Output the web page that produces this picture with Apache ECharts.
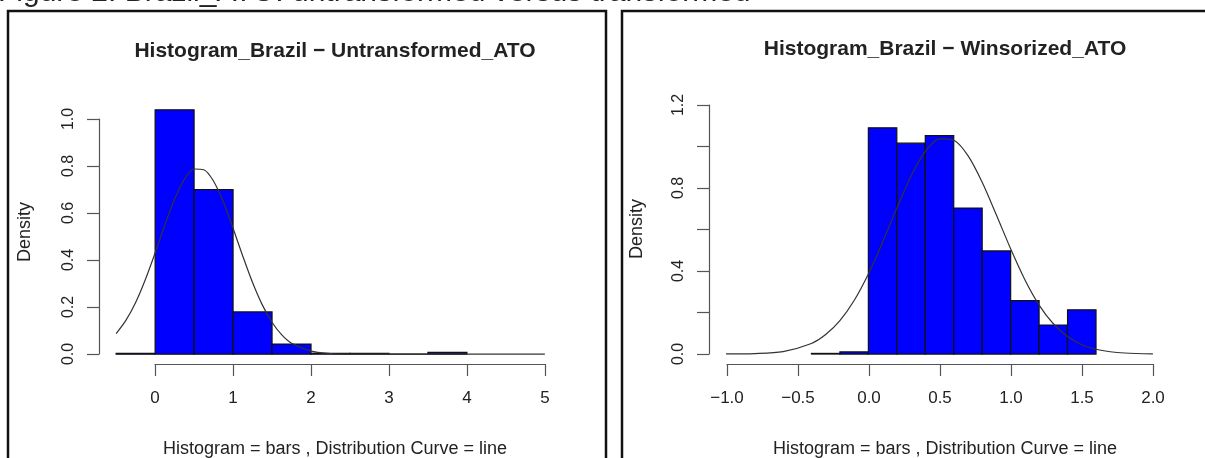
<!DOCTYPE html>
<html>
<head>
<meta charset="utf-8">
<title>Histogram_Brazil ATO</title>
<script src="https://cdn.jsdelivr.net/npm/echarts@6/dist/echarts.min.js"></script>
<style>
html, body { margin: 0; padding: 0; background: #ffffff; }
#chart { width: 1205px; height: 458px; }
</style>
</head>
<body>
<div id="chart"></div>
<script>
// left panel: untransformed ATO
var leftBreaks = [-0.5, 0, 0.5, 1, 1.5, 2, 2.5, 3, 3.5, 4];
var leftDensity = [0.004, 1.04, 0.70, 0.18, 0.043, 0.004, 0.004, 0, 0.008];
var leftCurveX = [-0.5, -0.375, -0.25, -0.125, 0, 0.125, 0.25, 0.375, 0.5, 0.625, 0.75, 0.875, 1, 1.125, 1.25, 1.375, 1.5, 1.625, 1.75, 2, 2.25, 2.5, 3, 4, 5];
var leftCurveY = [0.088, 0.144, 0.220, 0.318, 0.431, 0.550, 0.660, 0.744, 0.788, 0.785, 0.736, 0.648, 0.536, 0.417, 0.305, 0.210, 0.136, 0.082, 0.047, 0.013, 0.003, 0.0004, 0, 0, 0];
var leftXTicks = [0, 1, 2, 3, 4, 5];
var leftXLabels = ["0", "1", "2", "3", "4", "5"];
var leftYTicks = [0, 0.2, 0.4, 0.6, 0.8, 1.0];
var leftYLabels = ["0.0", "0.2", "0.4", "0.6", "0.8", "1.0"];

// right panel: winsorized ATO
var rightBreaks = [-0.4, -0.2, 0, 0.2, 0.4, 0.6, 0.8, 1.0, 1.2, 1.4, 1.6];
var rightDensity = [0.003, 0.01, 1.09, 1.016, 1.052, 0.703, 0.497, 0.257, 0.14, 0.213];
var rightCurveX = [-1, -0.8, -0.6, -0.4, -0.3, -0.2, -0.1, 0, 0.1, 0.2, 0.3, 0.4, 0.5, 0.6, 0.7, 0.8, 0.9, 1, 1.1, 1.2, 1.3, 1.4, 1.5, 1.6, 1.7, 1.8, 2];
var rightCurveY = [0.0003, 0.0023, 0.012, 0.051, 0.094, 0.161, 0.258, 0.386, 0.539, 0.703, 0.857, 0.976, 1.037, 1.030, 0.956, 0.828, 0.670, 0.507, 0.358, 0.236, 0.146, 0.084, 0.045, 0.023, 0.011, 0.005, 0.0007];
var rightXTicks = [-1, -0.5, 0, 0.5, 1, 1.5, 2];
var rightXLabels = ["\u22121.0", "\u22120.5", "0.0", "0.5", "1.0", "1.5", "2.0"];
var rightYTicks = [0, 0.4, 0.8, 1.2];
var rightYLabels = ["0.0", "0.4", "0.8", "1.2"];

var titles = ["Histogram_Brazil \u2212 Untransformed_ATO", "Histogram_Brazil \u2212 Winsorized_ATO"];
var subTitle = "Histogram = bars , Distribution Curve = line";
var caption = "Figure 2. Brazil_ATO: untransformed versus transformed";

var FONT = "Liberation Sans";
var AXIS_COLOR = "#555";
var TEXT_COLOR = "#222";

function pairs(xs, ys) {
  var out = [];
  for (var i = 0; i < xs.length; i++) out.push([xs[i], ys[i]]);
  return out;
}

function bins(breaks, dens) {
  var out = [];
  for (var i = 0; i < dens.length; i++) out.push([breaks[i], breaks[i + 1], dens[i]]);
  return out;
}

function labelFor(ticks, labels) {
  return function (v) {
    for (var i = 0; i < ticks.length; i++) {
      if (Math.abs(ticks[i] - v) < 1e-6) return labels[i];
    }
    return "";
  };
}

// 直方图的矩形
function renderBar(params, api) {
  var p0 = api.coord([api.value(0), api.value(2)]);
  var p1 = api.coord([api.value(1), 0]);
  return {
    type: "rect",
    shape: { x: p0[0], y: p0[1], width: p1[0] - p0[0], height: p1[1] - p0[1] },
    style: { fill: "#0000ff", stroke: "#111", lineWidth: 1.2 }
  };
}

function hiddenAxis(grid, min, max) {
  return { type: "value", gridIndex: grid, min: min, max: max, show: false };
}

function shownX(grid, min, max, interval, ticks, labels) {
  return {
    type: "value", gridIndex: grid, min: min, max: max, interval: interval,
    position: "bottom", offset: 10,
    axisLine: { show: true, onZero: false, lineStyle: { color: AXIS_COLOR, width: 1.2 } },
    axisTick: { show: true, length: 12, lineStyle: { color: AXIS_COLOR, width: 1.2 } },
    axisLabel: { margin: 26, fontSize: 17, color: TEXT_COLOR, fontFamily: FONT, formatter: labelFor(ticks, labels) },
    splitLine: { show: false }
  };
}

function shownY(grid, min, max, interval, offset, ticks, labels) {
  return {
    type: "value", gridIndex: grid, min: min, max: max, interval: interval,
    position: "left", offset: offset,
    axisLine: { show: true, onZero: false, lineStyle: { color: AXIS_COLOR, width: 1.2 } },
    axisTick: { show: true, length: 12, lineStyle: { color: AXIS_COLOR, width: 1.2 } },
    axisLabel: { rotate: 90, margin: 22, fontSize: 16, color: TEXT_COLOR, fontFamily: FONT, formatter: labelFor(ticks, labels) },
    splitLine: { show: false }
  };
}

var myChart = echarts.init(document.getElementById("chart"));
var chartOptions = {
  backgroundColor: "#ffffff",
  animation: false,
  title: [
    { text: titles[0], left: 330, top: 36, textAlign: "center",
      textStyle: { fontSize: 21, fontWeight: "bold", color: TEXT_COLOR, fontFamily: FONT } },
    { text: titles[1], left: 940, top: 34, textAlign: "center",
      textStyle: { fontSize: 21, fontWeight: "bold", color: TEXT_COLOR, fontFamily: FONT } },
    { text: subTitle, left: 330, top: 435, textAlign: "center",
      textStyle: { fontSize: 18, fontWeight: "normal", color: TEXT_COLOR, fontFamily: FONT } },
    { text: subTitle, left: 940, top: 435, textAlign: "center",
      textStyle: { fontSize: 18, fontWeight: "normal", color: TEXT_COLOR, fontFamily: FONT } }
  ],
  grid: [
    { left: 99, top: 100, width: 463, height: 264 },
    { left: 155, top: 119, width: 390, height: 235 },
    { left: 709, top: 95, width: 461, height: 269 },
    { left: 727, top: 105, width: 426, height: 249 }
  ],
  xAxis: [
    hiddenAxis(0, -0.72, 5.22),
    shownX(1, 0, 5, 1, leftXTicks, leftXLabels),
    hiddenAxis(2, -1.12, 2.12),
    shownX(3, -1, 2, 0.5, rightXTicks, rightXLabels)
  ],
  yAxis: [
    hiddenAxis(0, -0.0416, 1.0816),
    shownY(1, 0, 1, 0.2, 56, leftYTicks, leftYLabels),
    hiddenAxis(2, -0.048, 1.248),
    shownY(3, 0, 1.2, 0.2, 18, rightYTicks, rightYLabels)
  ],
  graphic: [
    { type: "rect", shape: { x: 8, y: 11, width: 598, height: 470 },
      style: { fill: "none", stroke: "#111", lineWidth: 2.5 } },
    { type: "rect", shape: { x: 622, y: 11, width: 600, height: 470 },
      style: { fill: "none", stroke: "#111", lineWidth: 2.5 } },
    { type: "text", x: -2, y: -7,
      style: { text: caption, fontSize: 30, fill: TEXT_COLOR, fontFamily: FONT, verticalAlign: "middle" } },
    { type: "text", x: 25, y: 232, rotation: Math.PI / 2,
      style: { text: "Density", fontSize: 18, fill: TEXT_COLOR, fontFamily: FONT, align: "center", verticalAlign: "middle" } },
    { type: "text", x: 637, y: 229, rotation: Math.PI / 2,
      style: { text: "Density", fontSize: 18, fill: TEXT_COLOR, fontFamily: FONT, align: "center", verticalAlign: "middle" } }
  ],
  series: [
    { type: "custom", xAxisIndex: 0, yAxisIndex: 0, renderItem: renderBar,
      encode: { x: [0, 1], y: 2 }, data: bins(leftBreaks, leftDensity), z: 2 },
    { type: "line", xAxisIndex: 0, yAxisIndex: 0, data: pairs(leftCurveX, leftCurveY),
      smooth: 0.3, showSymbol: false, lineStyle: { color: "#333", width: 1.2 }, z: 3 },
    { type: "custom", xAxisIndex: 2, yAxisIndex: 2, renderItem: renderBar,
      encode: { x: [0, 1], y: 2 }, data: bins(rightBreaks, rightDensity), z: 2 },
    { type: "line", xAxisIndex: 2, yAxisIndex: 2, data: pairs(rightCurveX, rightCurveY),
      smooth: 0.3, showSymbol: false, lineStyle: { color: "#333", width: 1.2 }, z: 3 }
  ]
};
// 绘制图表
myChart.setOption(chartOptions);
</script>
</body>
</html>
